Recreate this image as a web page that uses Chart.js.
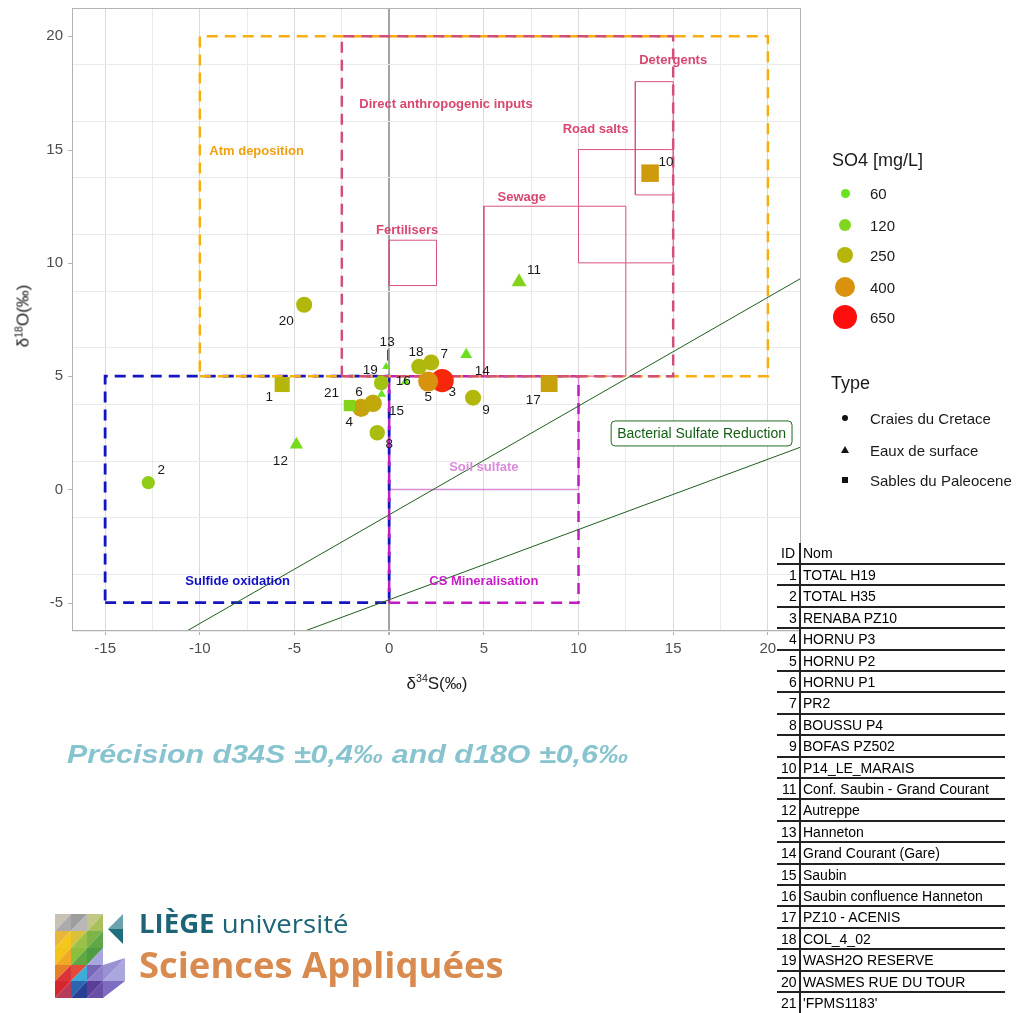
<!DOCTYPE html>
<html><head><meta charset="utf-8">
<script src="https://cdn.jsdelivr.net/npm/chart.js@4.4.1/dist/chart.umd.min.js"></script>
<style>
html,body{margin:0;padding:0;background:#fff;}
body{width:1028px;height:1013px;overflow:hidden;position:relative;font-family:"Liberation Sans",Arial,sans-serif;color:#1a1a1a;}
#c{position:absolute;left:0;top:0;}
.t{position:absolute;white-space:nowrap;line-height:1;}
sup{font-size:0.62em;vertical-align:0.6em;line-height:0;}
.hl{position:absolute;height:2px;background:#222;}
.vl{position:absolute;width:2px;background:#222;}
.dot{position:absolute;border-radius:50%;}
</style></head><body>
<canvas id="c" width="1028" height="1013"></canvas>
<script>
// ---------------- DATA ----------------
const ids   = [1,2,3,4,5,6,7,8,9,10,11,12,13,14,15,16,17,18,19,20,21];
const names = ['TOTAL H19','TOTAL H35','RENABA PZ10','HORNU P3','HORNU P2','HORNU P1','PR2','BOUSSU P4','BOFAS PZ502','P14_LE_MARAIS','Conf. Saubin - Grand Courant','Autreppe','Hanneton','Grand Courant (Gare)','Saubin','Saubin confluence Hanneton','PZ10 - ACENIS','COL_4_02','WASH2O RESERVE','WASMES RUE DU TOUR',"'FPMS1183'"];
const d34S  = [-5.65,-12.72,2.80,-1.48,2.06,-0.85,2.22,-0.63,4.43,13.78,6.86,-4.90,-0.16,4.07,-0.40,0.85,8.45,1.58,-0.42,-4.49,-2.10];
const d18O  = [4.63,0.30,4.80,3.60,4.76,3.80,5.60,2.50,4.05,13.96,9.16,1.98,5.42,5.95,4.20,4.76,4.67,5.42,4.70,8.15,3.70];
const so4   = [250,160,600,330,400,300,240,220,240,360,130,100,30,75,40,40,330,230,200,240,130];
const typeIdx = [2,0,0,0,0,0,0,0,0,2,1,1,1,1,1,1,2,0,0,0,2];
const typeNames = ['Craies du Cretace','Eaux de surface','Sables du Paleocene'];
const so4Breaks = [60,120,250,400,650];
const xTickLabels = [-15,-10,-5,0,5,10,15,20];
const yTickLabels = [-5,0,5,10,15,20];

// source boxes (data coordinates)
const boxNames = ['Atm deposition','Direct anthropogenic inputs','Sulfide oxidation','CS Mineralisation','Soil sulfate','Fertilisers','Sewage','Road salts','Detergents'];
const boxX0 = [-10,-2.5,-15,0,0,0,5,10,13];
const boxX1 = [20,15,0,10,10,2.5,12.5,15,15];
const boxY0 = [5,5,-5,-5,0,9,5,10,13];
const boxY1 = [20,20,5,5,5,11,12.5,15,18];
const boxLabelX = [-7.0,3.0,-8.0,5.0,5.0,0.95,7.0,10.9,15.0];
const boxLabelY = [14.9,17.0,-4.05,-4.05,0.97,11.45,12.9,15.9,18.95];

// reference lines  y = slope*x + intercept
const lineSlope = [0.48,0.31];
const lineIntercept = [-1.12,-4.87];
const bsrLabel = 'Bacterial Sulfate Reduction';
const bsrX = 16.5, bsrY = 2.47;

// ---------------- STYLES ----------------
const X_MIN=-16.75, X_MAX=21.75, Y_MIN=-6.25, Y_MAX=21.25;
const boxStyle = [
  {line:'#F6AE10', text:'#F0A010', w:2.5, dash:[11,7], order:4},
  {line:'#CF4F78', text:'#D9466F', w:2.5, dash:[11,7], order:3},
  {line:'#1414C0', text:'#1010C8', w:2.8, dash:[11,7], order:6},
  {line:'#C21BC2', text:'#C81CC8', w:2.5, dash:[11,7], order:5},
  {line:'#D98AD9', text:'#DC8ADC', w:1.5, dash:[], order:7},
  {line:'#D7557E', text:'#D9466F', w:1, dash:[], order:2},
  {line:'#D7557E', text:'#D9466F', w:1, dash:[], order:2},
  {line:'#D7557E', text:'#D9466F', w:1, dash:[], order:2},
  {line:'#D7557E', text:'#D9466F', w:1, dash:[], order:2}
];
const labelDx = [-13,13,10,-12,0,-14,13,12,13,16,15,-16,1,16,15,-2,-16,-3,-11,-18,-18];
const labelDy = [13,-12,12,14,16,-11,-8,12,13,-11,-12,17,-24,17,17,0,17,-14,-13,17,-12];
const sizeStops = [[20,2.8],[60,4.5],[120,6],[250,8.2],[400,10],[650,12]];
const colorStops = [[60,[102,226,30]],[120,[128,214,28]],[250,[181,181,10]],[400,[216,146,14]],[650,[255,12,12]]];
const shapeStyle = ['circle','triangle','rect'];
const shapeFactor = [1,1.4,1.3];

function interp(stops, v){
  if (v<=stops[0][0]) return stops[0][1];
  for (let i=1;i<stops.length;i++){
    if (v<=stops[i][0]){
      const t=(v-stops[i-1][0])/(stops[i][0]-stops[i-1][0]);
      const a=stops[i-1][1], b=stops[i][1];
      if (Array.isArray(a)) return a.map((c,k)=>Math.round(c+(b[k]-c)*t));
      return a+(b-a)*t;
    }
  }
  return stops[stops.length-1][1];
}
const so4Color = v => { const c=interp(colorStops,v); return `rgb(${c[0]},${c[1]},${c[2]})`; };
const so4Radius = v => interp(sizeStops,v);

// ---------------- DATASETS ----------------
const datasets = [];
datasets.push({
  label:'samples', order:0,
  data: ids.map((id,i)=>({x:d34S[i], y:d18O[i]})),
  pointStyle: typeIdx.map(t=>shapeStyle[t]),
  pointRadius: so4.map((v,i)=>so4Radius(v)*shapeFactor[typeIdx[i]]),
  pointHoverRadius: so4.map((v,i)=>so4Radius(v)*shapeFactor[typeIdx[i]]),
  backgroundColor: so4.map(so4Color),
  borderColor: so4.map(so4Color),
  borderWidth: 0, showLine:false
});
lineSlope.forEach((s,i)=>{
  datasets.push({
    label:'ref'+i, order:1, showLine:true, pointRadius:0, borderColor:'#1F5E1F', borderWidth:1,
    data:[{x:X_MIN, y:s*X_MIN+lineIntercept[i]},{x:X_MAX, y:s*X_MAX+lineIntercept[i]}]
  });
});
boxNames.forEach((n,i)=>{
  const st=boxStyle[i];
  datasets.push({
    label:n, order:st.order, showLine:true, pointRadius:0, borderColor:st.line, borderWidth:st.w,
    borderDash:st.dash, borderCapStyle:'butt', borderJoinStyle:'miter', tension:0,
    data:[{x:boxX0[i],y:boxY0[i]},{x:boxX1[i],y:boxY0[i]},{x:boxX1[i],y:boxY1[i]},{x:boxX0[i],y:boxY1[i]},{x:boxX0[i],y:boxY0[i]}]
  });
});

// ---------------- PLUGIN ----------------
const annot = {
  id:'annot',
  afterDatasetsDraw(chart){
    const {ctx, scales:{x,y}} = chart;
    ctx.save();
    ctx.textAlign='center'; ctx.textBaseline='middle';
    boxNames.forEach((n,i)=>{
      ctx.font='bold 13px "Liberation Sans", Arial, sans-serif';
      ctx.fillStyle=boxStyle[i].text;
      ctx.fillText(n, x.getPixelForValue(boxLabelX[i]), y.getPixelForValue(boxLabelY[i]));
    });
    // BSR label box
    ctx.font='14px "Liberation Sans", Arial, sans-serif';
    const bx=x.getPixelForValue(bsrX), by=y.getPixelForValue(bsrY);
    const tw=ctx.measureText(bsrLabel).width;
    const w=tw+12, h=25;
    ctx.beginPath();
    if (ctx.roundRect) ctx.roundRect(bx-w/2, by-h/2, w, h, 4); else ctx.rect(bx-w/2, by-h/2, w, h);
    ctx.fillStyle='#fff'; ctx.fill();
    ctx.strokeStyle='#1F6B1F'; ctx.lineWidth=1; ctx.stroke();
    ctx.fillStyle='#125E12';
    ctx.fillText(bsrLabel, bx, by+0.5);
    // point labels
    ctx.font='13.5px "Liberation Sans", Arial, sans-serif';
    ctx.fillStyle='#1a1a1a';
    ids.forEach((id,i)=>{
      const px=x.getPixelForValue(d34S[i]), py=y.getPixelForValue(d18O[i]);
      ctx.fillText(String(id), px+labelDx[i], py+labelDy[i]);
      if (id===13){
        ctx.beginPath(); ctx.moveTo(px+1.5,py-17); ctx.lineTo(px+1.5,py-6);
        ctx.strokeStyle='#333'; ctx.lineWidth=1; ctx.stroke();
      }
    });
    ctx.restore();
  },
  afterDraw(chart){
    const {ctx, chartArea:a, scales:{y}} = chart;
    ctx.save(); ctx.strokeStyle='#B3B3B3'; ctx.lineWidth=1;
    ctx.strokeRect(a.left+0.5,a.top+0.5,a.right-a.left-1,a.bottom-a.top-1);
    // y tick labels and tick marks through the y scale
    ctx.font='15px "Liberation Sans", Arial, sans-serif';
    ctx.fillStyle='#4D4D4D'; ctx.textAlign='right'; ctx.textBaseline='middle';
    yTickLabels.forEach(v=>{
      const py=y.getPixelForValue(v);
      ctx.fillText(String(v), a.left-9, py);
      ctx.beginPath(); ctx.moveTo(a.left-4,Math.round(py)+0.5); ctx.lineTo(a.left,Math.round(py)+0.5); ctx.stroke();
    });
    ctx.restore();
  }
};

const isMajor = (v, arr) => arr.some(t=>Math.abs(t-v)<1e-9);
function gridOpts(arr, ticks){
  return {
    color: c => (c.tick && Math.abs(c.tick.value)<1e-9) ? '#A3A3A3' : (c.tick && isMajor(c.tick.value,arr) ? '#DADADA' : '#EAEAEA'),
    lineWidth: c => (c.tick && Math.abs(c.tick.value)<1e-9) ? 2 : 1,
    tickColor: c => (ticks && c.tick && isMajor(c.tick.value,arr)) ? '#B3B3B3' : 'rgba(0,0,0,0)',
    tickLength: 4, drawTicks:ticks
  };
}
function noPad(s){ s.paddingTop=0; s.paddingBottom=0; s.paddingLeft=0; s.paddingRight=0; }

Chart.defaults.font.family='"Liberation Sans", Arial, sans-serif';
new Chart(document.getElementById('c'), {
  type:'scatter',
  data:{datasets},
  options:{
    responsive:false, animation:false, events:[],
    layout:{autoPadding:false, padding:{left:0,top:8,right:227,bottom:352}},
    plugins:{legend:{display:false}, tooltip:{enabled:false}},
    scales:{
      x:{type:'linear', min:X_MIN, max:X_MAX,
         ticks:{stepSize:2.5, includeBounds:false, autoSkip:false, maxRotation:0, padding:5,
                font:{size:15}, color:'#4D4D4D',
                callback:v=>isMajor(v,xTickLabels)?String(v):''},
         grid:gridOpts(xTickLabels,true), border:{display:false},
         afterFit:s=>{s.height=30; noPad(s);}},
      y:{type:'linear', min:Y_MIN, max:Y_MAX,
         ticks:{stepSize:2.5, includeBounds:false, autoSkip:false, display:false},
         grid:gridOpts(yTickLabels,false), border:{display:false},
         afterFit:s=>{s.width=72; noPad(s);}}
    }
  },
  plugins:[annot]
});

// ---------------- HTML TEXT ----------------
function txt(html, left, cy, style, fitW){
  const d=document.createElement('div'); d.className='t'; d.innerHTML=html;
  Object.assign(d.style, style||{});
  d.style.left=left+'px'; d.style.top=cy+'px';
  document.body.appendChild(d);
  let sx=1;
  if (fitW) sx=fitW/d.offsetWidth;
  d.style.transformOrigin='0 50%';
  d.style.transform=`translateY(-50%) scaleX(${sx})`;
  return d;
}
// axis titles
const yt=txt('δ<sup>18</sup>O(‰)',0,0,{fontSize:'17px',color:'#1a1a1a'});
yt.style.left='23px'; yt.style.top='316px'; yt.style.transformOrigin='50% 50%';
yt.style.transform='translate(-50%,-50%) rotate(-90deg)';
const xt=txt('δ<sup>34</sup>S(‰)',0,0,{fontSize:'17px',color:'#1a1a1a'});
xt.style.left='437px'; xt.style.top='683px'; xt.style.transformOrigin='50% 50%';
xt.style.transform='translate(-50%,-50%)';

// legend: SO4
txt('SO4 [mg/L]',832,160,{fontSize:'18px'});
const legY=[193,225,255,287,317];
so4Breaks.forEach((v,i)=>{
  const r=so4Radius(v);
  const d=document.createElement('div'); d.className='dot';
  Object.assign(d.style,{left:(845-r)+'px',top:(legY[i]-r)+'px',width:2*r+'px',height:2*r+'px',background:so4Color(v)});
  document.body.appendChild(d);
  txt(String(v),870,legY[i],{fontSize:'15px'});
});
// legend: Type
txt('Type',831,383,{fontSize:'18px'});
const typY=[418,450,480];
typeNames.forEach((n,i)=>{
  const d=document.createElement('div'); d.style.position='absolute';
  if (i===0){ Object.assign(d.style,{left:'842px',top:(typY[i]-3)+'px',width:'6px',height:'6px',borderRadius:'50%',background:'#111'}); }
  if (i===1){ Object.assign(d.style,{left:'841px',top:(typY[i]-4)+'px',width:0,height:0,borderLeft:'4px solid transparent',borderRight:'4px solid transparent',borderBottom:'7px solid #111'}); }
  if (i===2){ Object.assign(d.style,{left:'842px',top:(typY[i]-3)+'px',width:'6px',height:'6px',background:'#111'}); }
  document.body.appendChild(d);
  txt(n,870,typY[i],{fontSize:'15px'});
});

// table
const rowH=21.4;
txt('ID',781,553,{fontSize:'14px',color:'#000'});
txt('Nom',803,553,{fontSize:'14px',color:'#000'});
for (let i=0;i<=20;i++){
  const l=document.createElement('div'); l.className='hl';
  Object.assign(l.style,{left:'777px',top:Math.round(564+i*rowH-1)+'px',width:'228px'});
  document.body.appendChild(l);
}
const vl=document.createElement('div'); vl.className='vl';
Object.assign(vl.style,{left:'799px',top:'543px',height:'470px'}); document.body.appendChild(vl);
ids.forEach((id,i)=>{
  const cy=575+i*rowH;
  const d=txt(String(id),0,cy,{fontSize:'14px',color:'#000'});
  d.style.left=(797-d.offsetWidth)+'px';
  txt(names[i],803,cy,{fontSize:'14px',color:'#000'});
});

// precision note
txt('Précision d34S ±0,4‰ and d18O ±0,6‰',67,754,{fontSize:'26px',fontWeight:'bold',fontStyle:'italic',color:'#88C4CF'},561);

// logo text
txt('<b>LIÈGE</b> université',139,923,{fontSize:'26px',color:'#1D6576',fontFamily:'"Open Sans","Liberation Sans",sans-serif'},210);
txt('Sciences Appliquées',139,965,{fontSize:'36px',fontWeight:'bold',color:'#D98A4E',fontFamily:'"Open Sans","Liberation Sans",sans-serif'},365);
</script>
<svg style="position:absolute;left:52px;top:911px" width="80" height="92" viewBox="0 0 80 92">
  <polygon points="3,3 19,3 3,20" fill="#C7C2B4"/><polygon points="19,3 19,20 3,20" fill="#ABABAB"/>
  <polygon points="19,3 35,3 19,20" fill="#9D9D9D"/><polygon points="35,3 35,20 19,20" fill="#B7B7B7"/>
  <polygon points="35,3 51,3 35,20" fill="#C3C785"/><polygon points="51,3 51,20 35,20" fill="#AAC05E"/>
  <polygon points="3,20 19,20 3,37" fill="#E9B63C"/><polygon points="19,20 19,37 3,37" fill="#F3C71E"/>
  <polygon points="19,20 35,20 19,37" fill="#D8C13C"/><polygon points="35,20 35,37 19,37" fill="#9CC14A"/>
  <polygon points="35,20 51,20 35,37" fill="#7CB447"/><polygon points="51,20 51,37 35,37" fill="#5FA845"/>
  <polygon points="3,37 19,37 3,54" fill="#F2C318"/><polygon points="19,37 19,54 3,54" fill="#F0A826"/>
  <polygon points="19,37 35,37 19,54" fill="#8DBF3F"/><polygon points="35,37 35,54 19,54" fill="#5FA843"/>
  <polygon points="35,37 51,37 35,54" fill="#4E9C45"/><polygon points="51,37 51,54 35,54" fill="#A8A6DE"/>
  <polygon points="3,54 19,54 3,70" fill="#E77F25"/><polygon points="19,54 19,70 3,70" fill="#D9343A"/>
  <polygon points="19,54 35,54 19,70" fill="#E24A3A"/><polygon points="35,54 35,70 19,70" fill="#3FA9D8"/>
  <polygon points="35,54 51,54 35,70" fill="#7A66B6"/><polygon points="51,54 51,70 35,70" fill="#8F7FCB"/>
  <polygon points="51,70 73,47 73,70" fill="#A9A7DE"/><polygon points="51,54 73,47 51,70" fill="#9A91D3"/>
  <polygon points="3,70 19,70 3,87" fill="#D7262F"/><polygon points="19,70 19,87 3,87" fill="#B83A5A"/>
  <polygon points="19,70 35,70 19,87" fill="#2C66B0"/><polygon points="35,70 35,87 19,87" fill="#2A3F96"/>
  <polygon points="35,70 51,70 35,87" fill="#5A3E98"/><polygon points="51,70 51,87 35,87" fill="#6B4FA6"/>
  <polygon points="51,70 73,70 51,87" fill="#7E6CC0"/>
  <polygon points="56,18 71,3 71,18" fill="#6AA3AE"/><polygon points="56,18 71,18 71,33" fill="#1E6E7D"/>
</svg>
</body></html>
